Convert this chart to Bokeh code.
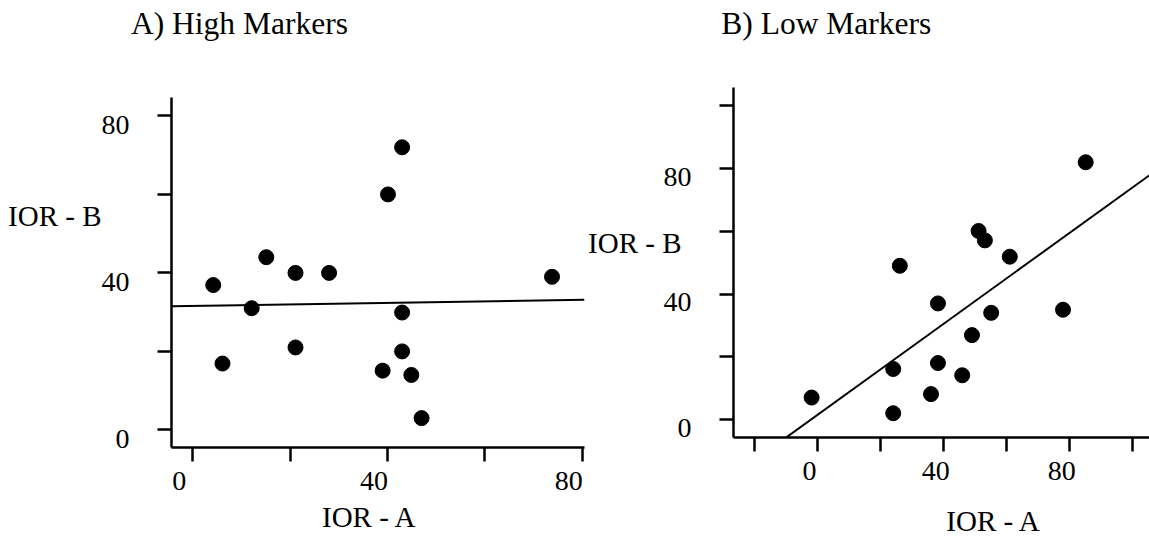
from bokeh.plotting import figure
from bokeh.models import LinearAxis, FixedTicker, Range1d
from bokeh.layouts import row
from bokeh.embed import file_html
from bokeh.resources import INLINE

FONT = "Liberation Serif"

# ---- data ----
a_x = [4.2, 6.1, 12.1, 15.1, 21.1, 21.1, 28.0, 40.1, 43.0, 43.0, 43.0, 39.0, 44.9, 47.0, 73.8]
a_y = [36.8, 16.8, 30.9, 43.9, 39.9, 20.9, 39.9, 59.9, 71.9, 29.8, 19.9, 15.0, 13.9, 2.9, 38.9]
a_fit = [31.5, 0.019]          # intercept, slope

b_x = [-1.9, 24.0, 24.0, 26.1, 36.0, 38.2, 38.2, 45.9, 49.0, 51.1, 53.1, 55.1, 61.0, 77.9, 85.1]
b_y = [7.0, 16.1, 2.0, 49.0, 8.1, 37.0, 18.0, 14.1, 26.9, 60.1, 57.1, 34.0, 51.9, 35.0, 82.0]
b_fit = [1.5, 0.725]

a_xticks = [0, 20, 40, 60, 80]
a_yticks = [0, 20, 40, 60, 80]
a_xlabels = [0, 40, 80]
a_ylabels = [0, 40, 80]

b_xticks = [-20, 0, 20, 40, 60, 80, 100]
b_yticks = [0, 20, 40, 60, 80, 100]
b_xlabels = [0, 40, 80]
b_ylabels = [0, 40, 80]

titles = ["A) High Markers", "B) Low Markers"]
xtitle = "IOR - A"
ytitle = "IOR - B"

H = 546


def make_panel(xs, ys, fit, cal, frame, page_x0, width, xticks, yticks,
               xlabels, ylabels, lab_shift, title, title_cx, xt_cx, yt_cy,
               so_title, so_xt, so_yt):
    # cal: pixel calibration (x0_px, px_per_x, y0_px, px_per_y) in page pixels
    x0, kx, y0, ky = cal
    fl, ft, fr, fb = frame  # frame edges in page pixels
    dx = lambda px: (px - x0) / kx
    dy = lambda py: (y0 - py) / ky
    xr = (dx(fl), dx(fr))
    yr = (dy(fb), dy(ft))
    p = figure(width=width, height=H, x_range=Range1d(*xr), y_range=Range1d(*yr),
               x_axis_type=None, y_axis_type=None, toolbar_location=None,
               output_backend="svg",
               min_border_left=fl - page_x0, min_border_right=page_x0 + width - fr,
               min_border_top=ft, min_border_bottom=H - fb)
    p.frame_align = False
    p.outline_line_color = None
    p.background_fill_color = "white"
    p.border_fill_color = "white"
    # tick labels sit a little left of / below their tick marks
    xoff = -lab_shift[0] / kx
    yoff = lab_shift[1] / ky
    p.extra_x_ranges = {"lab": Range1d(xr[0] + xoff, xr[1] + xoff)}
    p.extra_y_ranges = {"lab": Range1d(yr[0] + yoff, yr[1] + yoff)}

    base = dict(axis_line_width=2.5, axis_line_color="black",
                major_tick_line_color=None, major_tick_out=0, major_tick_in=0,
                minor_tick_line_color="black", minor_tick_line_width=2.5,
                minor_tick_out=14, minor_tick_in=0,
                major_label_text_font=FONT, major_label_text_font_size="28px",
                major_label_text_color="black")
    p.add_layout(LinearAxis(x_range_name="lab",
                            ticker=FixedTicker(ticks=xlabels,
                                               minor_ticks=[t + xoff for t in xticks]),
                            major_label_standoff=10, **base), "below")
    p.add_layout(LinearAxis(y_range_name="lab",
                            ticker=FixedTicker(ticks=ylabels,
                                               minor_ticks=[t + yoff for t in yticks]),
                            major_label_standoff=28, **base), "left")

    txt = dict(axis_line_color=None, major_tick_line_color=None,
               minor_tick_line_color=None, major_tick_out=0, major_tick_in=0,
               minor_tick_out=0, minor_tick_in=0, major_label_text_font=FONT,
               major_label_text_color="black")
    tx = round(dx(xt_cx), 2)
    p.add_layout(LinearAxis(ticker=FixedTicker(ticks=[tx]),
                            major_label_overrides={tx: xtitle},
                            major_label_text_font_size="29px",
                            major_label_standoff=so_xt, **txt), "below")
    ty = round(dy(yt_cy), 2)
    p.add_layout(LinearAxis(ticker=FixedTicker(ticks=[ty]),
                            major_label_overrides={ty: ytitle},
                            major_label_text_font_size="29px",
                            major_label_standoff=so_yt, **txt), "left")
    tt = round(dx(title_cx), 2)
    p.add_layout(LinearAxis(ticker=FixedTicker(ticks=[tt]),
                            major_label_overrides={tt: title},
                            major_label_text_font_size="31.5px",
                            major_label_standoff=so_title, **txt), "above")

    lx = [xr[0], xr[1]]
    ly = [fit[0] + fit[1] * v for v in lx]
    p.line(lx, ly, line_color="black", line_width=2)
    p.scatter(xs, ys, size=15, fill_color="black", line_color="black")
    return p


pa = make_panel(a_x, a_y, a_fit, (192.3, 4.8675, 429.0, 3.925), (171, 97, 584, 447),
                0, 585, a_xticks, a_yticks, a_xlabels, a_ylabels, (-13.5, 9),
                titles[0], 239, 369, 216, 57, 8, -3)

pb = make_panel(b_x, b_y, b_fit, (816.3, 3.158, 419.0, 3.137), (732, 87, 1149, 437),
                585, 564, b_xticks, b_yticks, b_xlabels, b_ylabels, (-8, 8),
                titles[1], 825, 993, 242, 47, 22, -21)

layout = row(pa, pb)
open("out.html", "w").write(file_html(layout, INLINE))
